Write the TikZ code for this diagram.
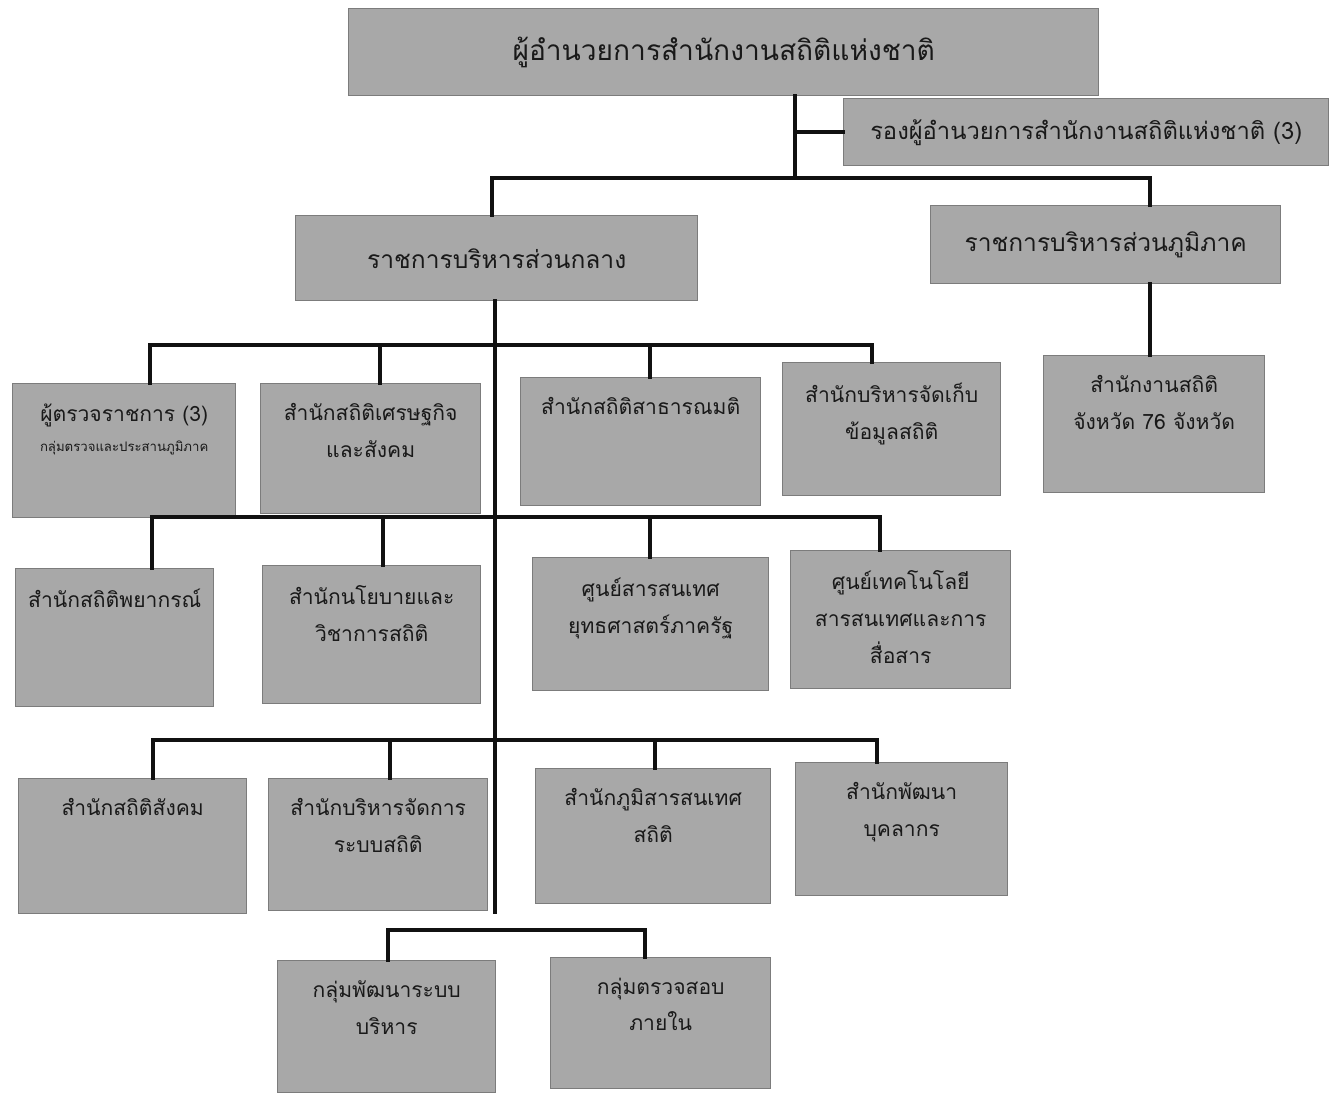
\documentclass[tikz,border=0pt]{standalone}
\usepackage{fontspec}
\newfontfamily\thaifont[Script=Thai]{Loma}
\usepackage{xcolor}
\usetikzlibrary{positioning}
\definecolor{boxgray}{HTML}{A8A8A8}
\definecolor{boxedge}{HTML}{7C7C7C}
\definecolor{inkline}{HTML}{111111}
\newlength\pxu
\setlength\pxu{0.02cm}
% box with its text near the top
\newcommand\unittext[3]{\parbox[c][#2\pxu][t]{#1\pxu}{\centering\vspace*{20\pxu}#3}}

\begin{document}
\begin{tikzpicture}[x=0.02cm,y=-0.02cm,line width=2.6pt,line cap=rect,
  font=\thaifont\fontsize{12}{21}\selectfont]
 \tikzstyle{head}=[draw=boxedge,fill=boxgray,line width=0.8pt,inner sep=0pt,anchor=north west,text=black!90]
 \tikzstyle{unit}=[draw=boxedge,fill=boxgray,line width=0.8pt,inner sep=0pt,anchor=north west,text=black!90]
 \tikzstyle{link}=[draw=inkline]
 \useasboundingbox (0,0) rectangle (1338,1097);

 % top level
 \node[head,minimum width=750\pxu,minimum height=87\pxu] (dir) at (348,8)
   {\fontsize{16}{20}\selectfont ผู้อำนวยการสำนักงานสถิติแห่งชาติ};
 \node[head,minimum width=485\pxu,minimum height=67\pxu] (dep) at (843,98)
   {\fontsize{13.5}{18}\selectfont รองผู้อำนวยการสำนักงานสถิติแห่งชาติ (3)};
 \node[head,minimum width=402\pxu,minimum height=85\pxu] (central) at (295,215)
   {\fontsize{14}{18}\selectfont ราชการบริหารส่วนกลาง};
 \node[head,minimum width=350\pxu,minimum height=78\pxu] (regional) at (930,205)
   {\fontsize{14}{18}\selectfont ราชการบริหารส่วนภูมิภาค};
 \node[unit] (prov) at (1043,355) {\unittext{221}{137}{สำนักงานสถิติ\\จังหวัด 76 จังหวัด}};

 % central offices
 \node[unit] (a1) at (12,383) {\unittext{223}{134}{ผู้ตรวจราชการ (3)\\[-4pt]{\fontsize{7.5}{9}\selectfont กลุ่มตรวจและประสานภูมิภาค}}};
 \node[unit] (a2) at (260,383) {\unittext{220}{130}{สำนักสถิติเศรษฐกิจ\\และสังคม}};
 \node[unit] (a3) at (520,377) {\unittext{240}{128}{สำนักสถิติสาธารณมติ}};
 \node[unit] (a4) at (782,362) {\unittext{218}{133}{สำนักบริหารจัดเก็บ\\ข้อมูลสถิติ}};

 \node[unit] (b1) at (15,568) {\unittext{198}{138}{สำนักสถิติพยากรณ์}};
 \node[unit] (b2) at (262,565) {\unittext{218}{138}{สำนักนโยบายและ\\วิชาการสถิติ}};
 \node[unit] (b3) at (532,557) {\unittext{236}{133}{ศูนย์สารสนเทศ\\ยุทธศาสตร์ภาครัฐ}};
 \node[unit] (b4) at (790,550) {\unittext{220}{138}{ศูนย์เทคโนโลยี\\สารสนเทศและการ\\สื่อสาร}};

 \node[unit] (c1) at (18,778) {\unittext{228}{135}{สำนักสถิติสังคม}};
 \node[unit] (c2) at (268,778) {\unittext{219}{132}{สำนักบริหารจัดการ\\ระบบสถิติ}};
 \node[unit] (c3) at (535,768) {\unittext{235}{135}{สำนักภูมิสารสนเทศ\\สถิติ}};
 \node[unit] (c4) at (795,762) {\unittext{212}{133}{สำนักพัฒนา\\บุคลากร}};

 \node[unit] (d1) at (277,960) {\unittext{218}{132}{กลุ่มพัฒนาระบบ\\บริหาร}};
 \node[unit] (d2) at (550,957) {\unittext{220}{131}{กลุ่มตรวจสอบ\\ภายใน}};

 % connectors
 \coordinate (hub) at (795,178);
 \coordinate (lbar) at (492,178);
 \coordinate (rbar) at (1150,178);
 \coordinate (tend) at (495,912);
 \draw[link] (dir.south -| hub) -- (hub);
 \draw[link] (hub |- dep.west) -- (dep.west);
 \draw[link] (lbar) -- (rbar);
 \draw[link] (lbar) -- (lbar |- central.north);
 \draw[link] (rbar) -- (rbar |- regional.north);
 \draw[link] (rbar |- regional.south) -- (rbar |- prov.north);
 \draw[link] (central.south -| tend) -- (tend);
 \foreach \r/\y/\xa/\xb/\xc/\xd in {a/345/150/380/650/872,b/517/152/383/650/880,c/740/153/390/655/877}{
   \coordinate (\r1j) at (\xa,\y);
   \coordinate (\r2j) at (\xb,\y);
   \coordinate (\r3j) at (\xc,\y);
   \coordinate (\r4j) at (\xd,\y);
   \draw[link] (\r1j) -- (\r4j);
   \foreach \i in {1,...,4}
     \draw[link] (\r\i j) -- (\r\i j |- \r\i.north);
 }
 \coordinate (d1j) at (388,930);
 \coordinate (d2j) at (645,930);
 \draw[link] (d1j |- d1.north) -- (d1j) -- (d2j) -- (d2j |- d2.north);
\end{tikzpicture}
\end{document}
